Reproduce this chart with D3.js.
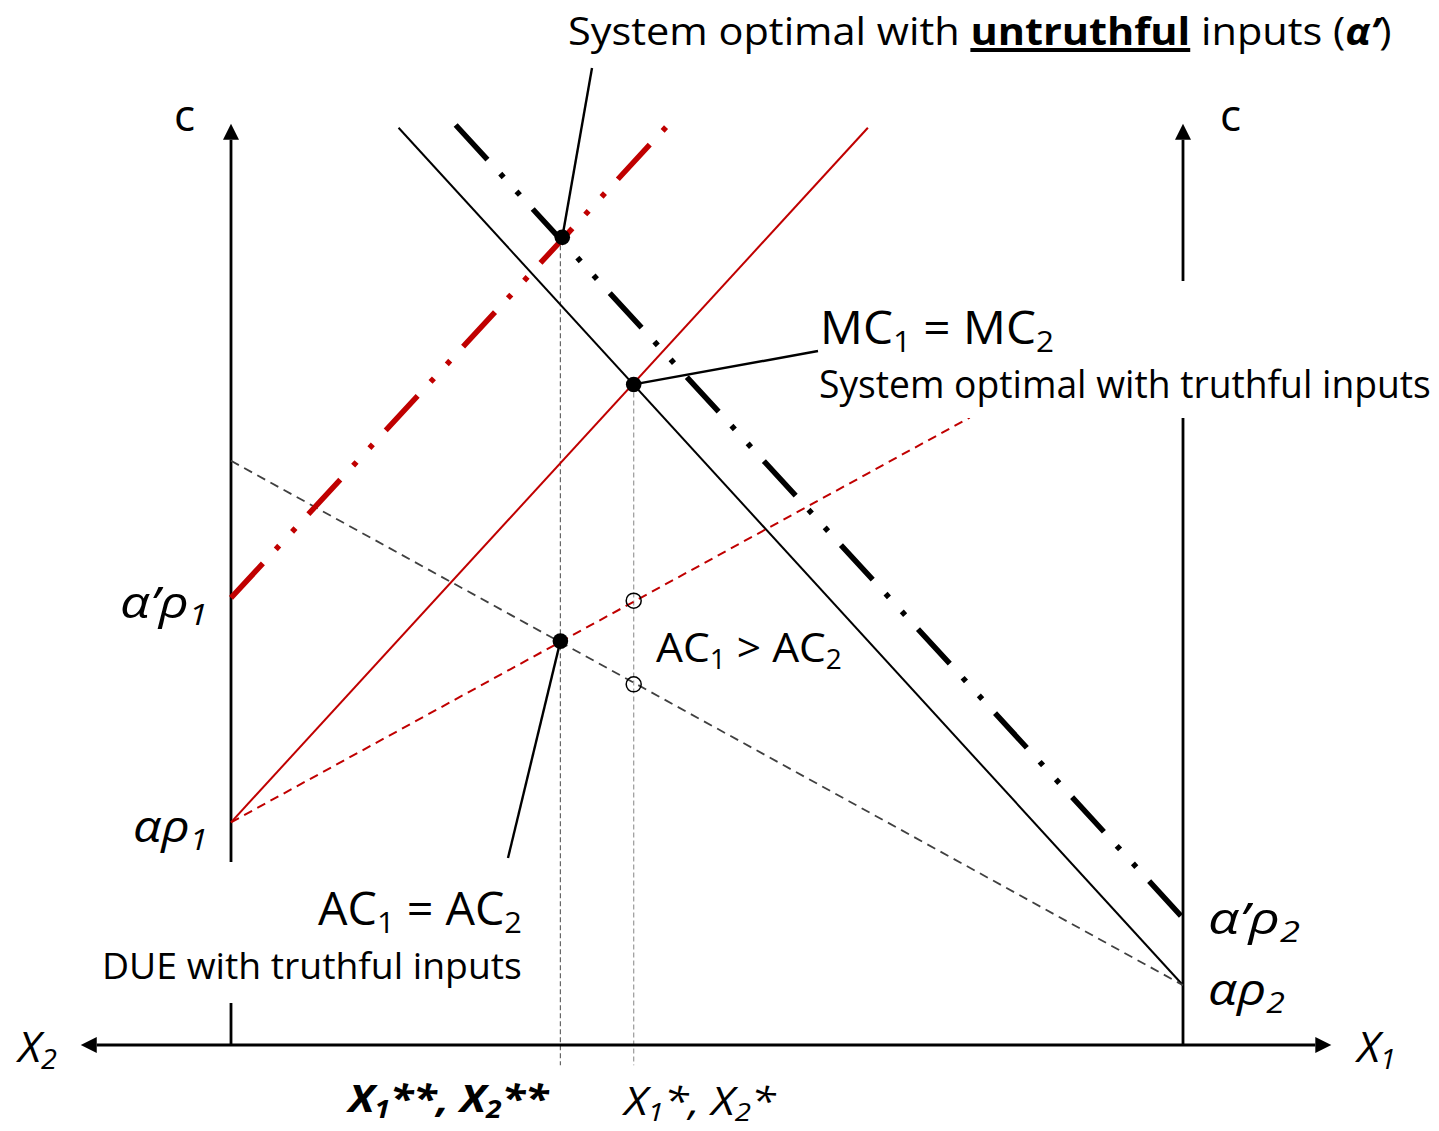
<!DOCTYPE html>
<html><head><meta charset="utf-8">
<script src="https://cdn.jsdelivr.net/npm/d3@7"></script>
<style>
body{margin:0;background:#fff}
svg{display:block}
text{font-family:"Open Sans",sans-serif;fill:#000}
</style>
</head><body>
<svg id="chart" width="1439" height="1131"></svg>
<script>
// ---------- data (diagram units: x = share of flow 0..100, y = cost 0..100) ----------
const curveIds = ["MC1", "MC2", "AC1", "AC2", "MC2_untruthful", "MC1_untruthful"];
const curveX0 = [0, 17.6, 0, 0, 23.6, 0];
const curveY0 = [24.2, 99.7, 24.2, 63.5, 100, 48.6];
const curveX1 = [66.9, 100, 77.6, 100, 100, 45.9];
const curveY1 = [99.7, 6.5, 68.2, 6.5, 13.8, 100];

const pointIds = ["SO_untruthful", "SO_truthful", "DUE", "AC1_at_SO", "AC2_at_SO"];
const pointX = [34.8, 42.3, 34.6, 42.3, 42.3];
const pointY = [87.8, 71.8, 43.9, 48.3, 39.2];
const pointFilled = [true, true, true, false, false];

const guideX = [34.6, 42.3];
const guideTop = [87.8, 71.8];
const guideBottom = [-2.2, -2.2];

const interceptLabels = ["α’ρ1", "αρ1", "α’ρ2", "αρ2"];
const interceptValues = [48.6, 24.2, 13.8, 6.5];

// ---------- scales ----------
const x = d3.scaleLinear().domain([0, 100]).range([231, 1183]);
const y = d3.scaleLinear().domain([0, 100]).range([1045, 125]);

const svg = d3.select("#chart");

// ---------- styles ----------
const curveStyle = {
  MC1: {stroke: "#C00000", width: 2, dash: null},
  MC2: {stroke: "#000", width: 2, dash: null},
  AC1: {stroke: "#C00000", width: 2, dash: "9,6"},
  AC2: {stroke: "#404040", width: 1.8, dash: "9,6"},
  MC2_untruthful: {stroke: "#000", width: 5.5, dash: "47,19,5,19,5,19"},
  MC1_untruthful: {stroke: "#C00000", width: 5.5, dash: "47,19,5,19,5,19"}
};

const defs = svg.append("defs");
defs.append("marker").attr("id", "arrow")
  .attr("markerUnits", "userSpaceOnUse")
  .attr("markerWidth", 18).attr("markerHeight", 18)
  .attr("viewBox", "0 -9 18 18")
  .attr("refX", 0).attr("refY", 0)
  .attr("orient", "auto-start-reverse")
  .append("path").attr("d", "M0,-8L16,0L0,8Z").attr("fill", "#000");

// ---------- guide lines ----------
svg.append("g").selectAll("line").data(guideX).join("line")
  .attr("x1", d => x(d)).attr("x2", d => x(d))
  .attr("y1", (d, i) => y(guideTop[i])).attr("y2", (d, i) => y(guideBottom[i]))
  .attr("stroke", (d, i) => i === 0 ? "#666" : "#9a9a9a")
  .attr("stroke-width", 1.2).attr("stroke-dasharray", "5,3");

// ---------- axes ----------
const axes = svg.append("g").attr("stroke", "#000").attr("stroke-width", 2.8);
axes.append("line")
  .attr("x1", x(-14.1)).attr("x2", x(113.9)).attr("y1", y(0)).attr("y2", y(0))
  .attr("marker-start", "url(#arrow)").attr("marker-end", "url(#arrow)");
[0, 100].forEach(v => {
  axes.append("line")
    .attr("x1", x(v)).attr("x2", x(v)).attr("y1", y(0)).attr("y2", y(98.4))
    .attr("marker-end", "url(#arrow)");
});

// ---------- curves ----------
svg.append("g").selectAll("line").data(curveIds).join("line")
  .attr("x1", (d, i) => x(curveX0[i])).attr("y1", (d, i) => y(curveY0[i]))
  .attr("x2", (d, i) => x(curveX1[i])).attr("y2", (d, i) => y(curveY1[i]))
  .attr("stroke", d => curveStyle[d].stroke)
  .attr("stroke-width", d => curveStyle[d].width)
  .attr("stroke-dasharray", d => curveStyle[d].dash);

// ---------- white label boxes (interrupt axes like the original) ----------
svg.append("rect").attr("x", 812).attr("y", 281).attr("width", 627).attr("height", 137).attr("fill", "#fff");
svg.append("rect").attr("x", 96).attr("y", 862).attr("width", 430).attr("height", 141).attr("fill", "#fff");

// ---------- leader lines ----------
const leaders = [
  [0, 592, 68],
  [1, 818, 351],
  [2, 508, 858]
];
svg.append("g").selectAll("line").data(leaders).join("line")
  .attr("x1", d => x(pointX[d[0]])).attr("y1", d => y(pointY[d[0]]))
  .attr("x2", d => d[1]).attr("y2", d => d[2])
  .attr("stroke", "#000").attr("stroke-width", 2.4);

// ---------- points ----------
svg.append("g").selectAll("circle").data(pointIds).join("circle")
  .attr("cx", (d, i) => x(pointX[i])).attr("cy", (d, i) => y(pointY[i]))
  .attr("r", (d, i) => pointFilled[i] ? 7.8 : 7.5)
  .attr("fill", (d, i) => pointFilled[i] ? "#000" : "none")
  .attr("stroke", "#000").attr("stroke-width", (d, i) => pointFilled[i] ? 0 : 1.5);

// ---------- text helper ----------
function label(spans, o) {
  const g = svg.append("g");
  const t = g.append("text").attr("font-size", o.size);
  let inSub = false;
  const shift = o.size * 0.17;
  spans.forEach(s => {
    const ts = t.append("tspan").text(s.t);
    if (s.w) ts.attr("font-weight", s.w);
    if (s.i) ts.attr("font-style", "italic");
    if (s.sub) {
      ts.attr("font-size", o.size * 0.66);
      if (!inSub) ts.attr("dy", shift);
      inSub = true;
    } else if (inSub) {
      ts.attr("dy", -shift);
      inSub = false;
    }
  });
  const bb = t.node().getBBox();
  const s = o.width ? o.width / bb.width : 1;
  let tx = o.x - bb.x * s;
  g.attr("transform", `translate(${tx},${o.y}) scale(${s},1)`);
  return {g, t, s};
}

// Title with underlined bold word
const title = label([
  {t: "System optimal with "},
  {t: "untruthful", w: 700},
  {t: " inputs ("},
  {t: "α’", w: 700, i: true},
  {t: ")"}
], {x: 568, y: 45, size: 38, width: 824});
{
  const n = title.t.node();
  const start = "System optimal with ".length;
  const p0 = n.getStartPositionOfChar(start).x;
  const p1 = n.getEndPositionOfChar(start + 9).x;
  title.g.append("line").attr("x1", p0).attr("x2", p1).attr("y1", 5).attr("y2", 5)
    .attr("stroke", "#000").attr("stroke-width", 4);
}

// axis name "c"
label([{t: "c"}], {x: 174, y: 131, size: 44});
label([{t: "c"}], {x: 1220, y: 131, size: 44});

label([{t: "MC"}, {t: "1", sub: true}, {t: " = MC"}, {t: "2", sub: true}],
  {x: 820, y: 344, size: 45, width: 234});
label([{t: "System optimal with truthful inputs"}], {x: 819, y: 398, size: 38, width: 612});

label([{t: "AC"}, {t: "1", sub: true}, {t: " > AC"}, {t: "2", sub: true}],
  {x: 656, y: 662, size: 41, width: 186});

label([{t: "AC"}, {t: "1", sub: true}, {t: " = AC"}, {t: "2", sub: true}],
  {x: 318, y: 925, size: 45, width: 204});
label([{t: "DUE with truthful inputs"}], {x: 102, y: 979, size: 36, width: 420});

// intercept labels
function interceptSpans(str) {
  const base = str.slice(0, -1), sub = str.slice(-1);
  return [{t: base, i: true}, {t: sub, i: true, sub: true}];
}
const interceptPos = [
  {x: 120, dy: 20, width: 88},
  {x: 133, dy: 20, width: 75},
  {x: 1208, dy: 16, width: 92},
  {x: 1208, dy: 20, width: 77}
];
interceptLabels.forEach((lab, i) => {
  const p = interceptPos[i];
  label(interceptSpans(lab), {x: p.x, y: y(interceptValues[i]) + p.dy, size: 44, width: p.width});
});

// axis names X2 / X1
label([{t: "X", i: true}, {t: "2", i: true, sub: true}], {x: 15, y: 1062, size: 42, width: 42});
label([{t: "X", i: true}, {t: "1", i: true, sub: true}], {x: 1354, y: 1062, size: 42, width: 42});

// equilibrium flow labels
label([{t: "X", i: true, w: 700}, {t: "1", i: true, w: 700, sub: true}, {t: "**, X", i: true, w: 700},
       {t: "2", i: true, w: 700, sub: true}, {t: "**", i: true, w: 700}],
  {x: 345, y: 1112, size: 38, width: 205});
label([{t: "X", i: true}, {t: "1", i: true, sub: true}, {t: "*, X", i: true},
       {t: "2", i: true, sub: true}, {t: "*", i: true}],
  {x: 622, y: 1115, size: 38, width: 155});
</script>
</body></html>
